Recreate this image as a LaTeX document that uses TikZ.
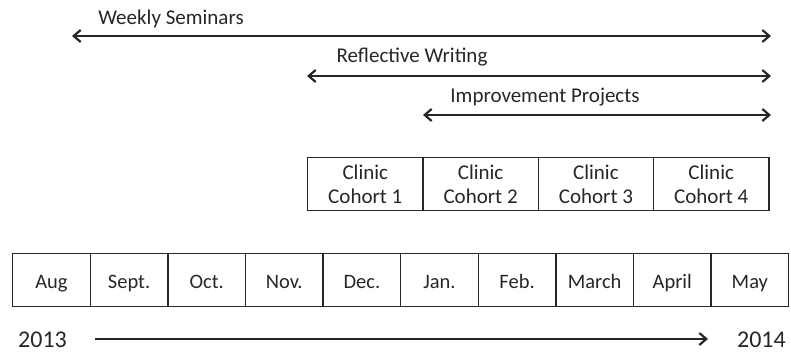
\documentclass[tikz,border=0pt]{standalone}
\usepackage{fontspec}
\setmainfont{Carlito}
\usetikzlibrary{arrows.meta}
\definecolor{ink}{HTML}{262626}
\tikzset{
  cell/.style={draw=ink, line width=1.3pt, minimum width=77.6pt, minimum height=53pt, anchor=north west, inner sep=0pt, text height=20pt, text depth=3pt, text=ink, font=\fontsize{20.5}{24}\selectfont},
  cohort/.style={draw=ink, line width=1.3pt, minimum width=115.3pt, minimum height=53pt, anchor=north west, inner sep=0pt, align=center, text=ink, font=\fontsize{21}{24}\selectfont},
  span/.style={draw=ink, line width=2.2pt, {Straight Barb[length=7pt,width=12pt,line width=2.2pt]}-{Straight Barb[length=7pt,width=12pt,line width=2.2pt]}},
  onearrow/.style={draw=ink, line width=2.2pt, -{Straight Barb[length=7pt,width=12pt,line width=2.2pt]}},
  lbl/.style={text=ink, font=\fontsize{21}{24}\selectfont, inner sep=0pt},
  year/.style={text=ink, font=\fontsize{24}{28}\selectfont, inner sep=0pt}
}
\begin{document}
\begin{tikzpicture}[x=1pt,y=-1pt]
\useasboundingbox (0,0) rectangle (791,358);
% month row
\foreach \m [count=\i from 0] in {Aug,Sept.,Oct.,Nov.,Dec.,Jan.,Feb.,March,April,May}{
  \node[cell] (m\i) at (12+\i*77.6,253) {\m};
}
% cohort row
\foreach \c [count=\i from 1] in {1,2,3,4}{
  \node[cohort] (c\i) at (307+\i*115.3-115.3,157) {Clinic\\Cohort \c};
}
% spans
\coordinate (wsL) at (72,36);
\coordinate (wsR) at (771,36);
\coordinate (rwL) at (307,76);
\coordinate (rwR) at (771,76);
\coordinate (ipL) at (423,115);
\coordinate (ipR) at (771,115);
\draw[span] (wsL) -- (wsR);
\draw[span] (rwL) -- (rwR);
\draw[span] (ipL) -- (ipR);
\node[lbl] (ws) at (171,19) {Weekly Seminars};
\node[lbl] (rw) at (412,57) {Reflective Writing};
\node[lbl] (ip) at (545,97) {Improvement Projects};
% years
\node[year, anchor=west] (y1) at (18,340) {2013};
\node[year, anchor=east] (y2) at (786,340) {2014};
\coordinate (yaL) at (95,339);
\coordinate (yaR) at (708,339);
\draw[onearrow] (yaL) -- (yaR);
\end{tikzpicture}
\end{document}
